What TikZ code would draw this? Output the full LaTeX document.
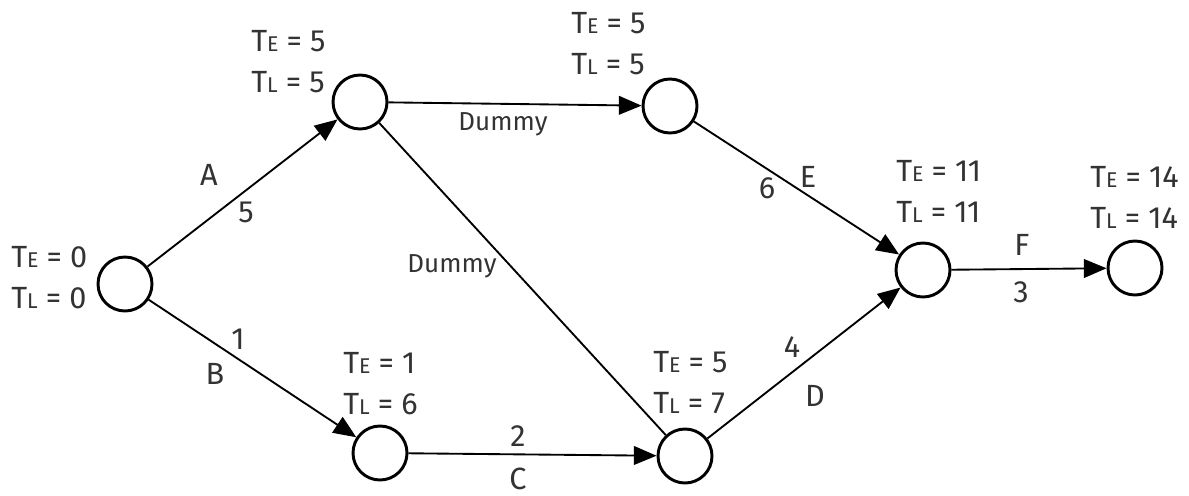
\documentclass[tikz,border=0pt]{standalone}
\usepackage{fontspec}
\setmainfont{Fira Sans}
\usetikzlibrary{arrows.meta}
\definecolor{txt}{HTML}{333333}
\newcommand{\tE}{T{\fontsize{16}{16}\selectfont E}}
\newcommand{\tL}{T{\fontsize{16}{16}\selectfont L}}
\begin{document}
\begin{tikzpicture}[x=0.75pt,y=-0.75pt,
  ev/.style={circle,draw=black,line width=2.2pt,minimum size=40.5pt,inner sep=0pt},
  tlab/.style={text=txt,font=\fontsize{23}{30.75}\selectfont,align=left,anchor=west,inner sep=0pt},
  elab/.style={text=txt,font=\fontsize{23}{28}\selectfont,inner sep=0pt},
  dlab/.style={text=txt,font=\fontsize{19.5}{22}\selectfont,inner sep=0pt},
  act/.style={line width=1.4pt,-{Triangle[length=17pt,width=14pt]}},
  dum/.style={line width=1.4pt}]
\useasboundingbox (0,0) rectangle (1189,496);
\fill[white] (0,0) rectangle (1189,496);
% events
\node[ev] (n1) at (125,284) {};
\node[ev] (n2) at (360,102) {};
\node[ev] (n3) at (670,106) {};
\node[ev] (n4) at (380,453) {};
\node[ev] (n5) at (685,456) {};
\node[ev] (n6) at (923,270) {};
\node[ev] (n7) at (1135,268) {};
% times
\node[tlab] (t1) at (11,278) {\tE{} = 0\\\tL{} = 0};
\node[tlab] (t2) at (251,62) {\tE{} = 5\\\tL{} = 5};
\node[tlab] (t3) at (571,44) {\tE{} = 5\\\tL{} = 5};
\node[tlab] (t4) at (343,384) {\tE{} = 1\\\tL{} = 6};
\node[tlab] (t5) at (653,383) {\tE{} = 5\\\tL{} = 7};
\node[tlab] (t6) at (896,191) {\tE{} = 11\\\tL{} = 11};
\node[tlab] (t7) at (1090,197) {\tE{} = 14\\\tL{} = 14};
% activities
\draw[act] (n1) -- (n2);
\draw[act] (n1) -- (n4);
\draw[act] (n2) -- (n3);
\draw[dum] (n2) -- (n5);
\draw[act] (n3) -- (n6);
\draw[act] (n4) -- (n5);
\draw[act] (n5) -- (n6);
\draw[act] (n6) -- (n7);
% labels
\node[elab] (lA) at (209,175) {A};
\node[elab] (l5) at (246,212) {5};
\node[elab] (l1) at (238,339) {1};
\node[elab] (lB) at (215,374) {B};
\node[dlab] (ld1) at (503,124) {Dummy};
\node[dlab] (ld2) at (452,266) {Dummy};
\node[elab] (lE) at (808,177) {E};
\node[elab] (l6) at (767,188) {6};
\node[elab] (l4) at (792,347) {4};
\node[elab] (lD) at (815,396) {D};
\node[elab] (lF) at (1022,245) {F};
\node[elab] (l3) at (1021,292) {3};
\node[elab] (l2) at (518,436) {2};
\node[elab] (lC) at (518,479) {C};
\end{tikzpicture}
\end{document}
